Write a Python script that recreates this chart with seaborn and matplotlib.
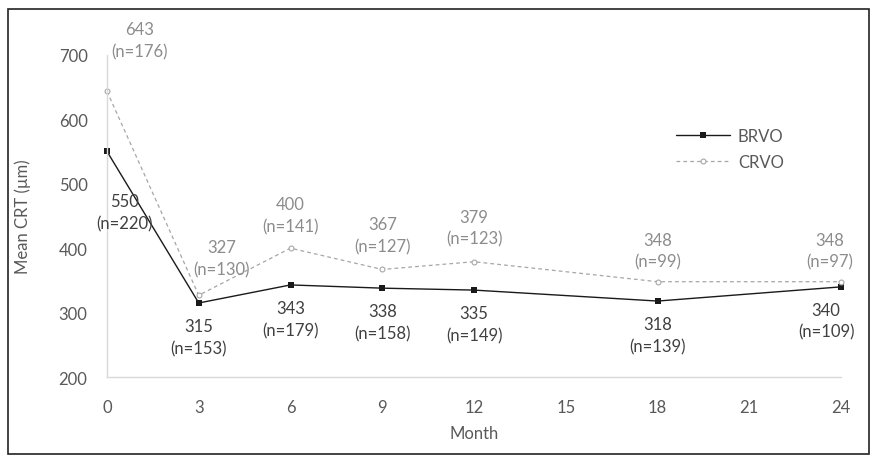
import numpy as np
import pandas as pd
import matplotlib
matplotlib.use("Agg")
import matplotlib.pyplot as plt
import seaborn as sns
from matplotlib.patches import Rectangle

months = [0, 3, 6, 9, 12, 18, 24]
brvo_crt = [550, 315, 343, 338, 335, 318, 340]
brvo_n = [220, 153, 179, 158, 149, 139, 109]
crvo_crt = [643, 327, 400, 367, 379, 348, 348]
crvo_n = [176, 130, 141, 127, 123, 99, 97]
x_ticks = [0, 3, 6, 9, 12, 15, 18, 21, 24]
y_ticks = [200, 300, 400, 500, 600, 700]

# label offsets in pixels (dx, dy) relative to each point
brvo_off = [(18, -61), (0, -34), (0, -34), (0, -34), (0, -34), (0, -34), (-15, -34)]
crvo_off = [(33, 51), (23, 37), (0, 33), (0, 34), (0, 34), (0, 31), (-11, 31)]

sns.set_theme(style="white")
plt.rcParams['font.family'] = ['Lato', 'DejaVu Sans']

df = pd.DataFrame({
    'Month': months * 2,
    'CRT': brvo_crt + crvo_crt,
    'Group': ['BRVO'] * len(months) + ['CRVO'] * len(months),
})

fig = plt.figure(figsize=(8.77, 4.64), dpi=100)
ax = fig.add_axes([0.122, 0.185, 0.837, 0.695])

sns.lineplot(data=df[df.Group == 'BRVO'], x='Month', y='CRT', ax=ax, color='#1a1a1a',
             linewidth=1.0, marker='s', markersize=4.5, markeredgewidth=0,
             label='BRVO', clip_on=False)
sns.lineplot(data=df[df.Group == 'CRVO'], x='Month', y='CRT', ax=ax, color='#a6a6a6',
             linewidth=0.9, linestyle=(0, (3, 2.5)), marker='o', markersize=3.5,
             markerfacecolor='white', markeredgecolor='#a6a6a6', markeredgewidth=0.8,
             label='CRVO', clip_on=False)

for m, v, n, off in zip(months, brvo_crt, brvo_n, brvo_off):
    ax.annotate(f"{v}\n(n={n})", (m, v), xytext=off, textcoords='offset pixels',
                ha='center', va='center', fontsize=12, color='#404040', linespacing=1.45)
for m, v, n, off in zip(months, crvo_crt, crvo_n, crvo_off):
    ax.annotate(f"{v}\n(n={n})", (m, v), xytext=off, textcoords='offset pixels',
                ha='center', va='center', fontsize=12, color='#8c8c8c', linespacing=1.45)

ax.set_xlim(0, 24)
ax.set_ylim(200, 700)
ax.set_xticks(x_ticks)
ax.set_yticks(y_ticks)
ax.tick_params(axis='both', labelsize=12, labelcolor='#595959', color='#d9d9d9',
               length=4, width=1, direction='out')
ax.tick_params(axis='x', pad=12)
ax.tick_params(axis='y', pad=10)
for s in ['top', 'right']:
    ax.spines[s].set_visible(False)
for s in ['left', 'bottom']:
    ax.spines[s].set_color('#d9d9d9')
    ax.spines[s].set_linewidth(1)
ax.set_xlabel('Month', fontsize=12, color='#595959', labelpad=7)
ax.set_ylabel('Mean CRT (µm)', fontsize=12, color='#595959', labelpad=20)

leg = ax.legend(loc='upper left', bbox_to_anchor=(0.755, 0.819), frameon=False,
                fontsize=12, labelcolor='#595959', handlelength=3.2, labelspacing=0.6,
                handletextpad=0.5)

fig.patches.append(Rectangle((0.009, 0.019), 0.982, 0.959, transform=fig.transFigure,
                             fill=False, edgecolor='#222222', linewidth=1.2))

fig.savefig('out.png', dpi=100)
